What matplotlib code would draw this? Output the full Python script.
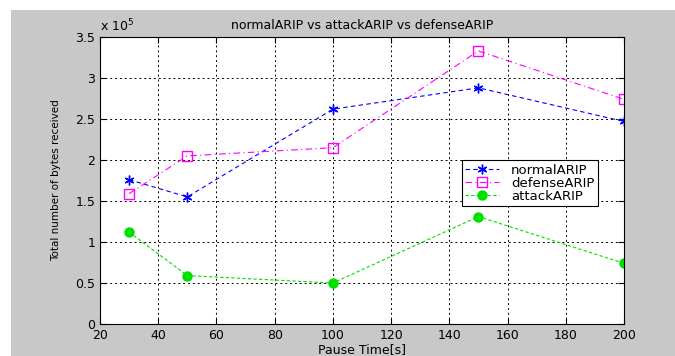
import matplotlib
matplotlib.use('Agg')
import matplotlib.pyplot as plt
from matplotlib.patches import Rectangle
from matplotlib.ticker import FuncFormatter

plt.rcParams['font.family'] = ['DejaVu Sans']

pause_time = [30, 50, 100, 150, 200]
normal_arip = [176000, 155000, 262000, 288000, 247000]
defense_arip = [159000, 205000, 215000, 333000, 274000]
attack_arip = [112000, 59000, 50000, 131000, 74000]

fig = plt.figure(figsize=(6.75, 3.56), dpi=100, facecolor='white')
# grey MATLAB style figure area, leaving a white strip at left and top
fig.patches.append(Rectangle((11 / 675, 0), 1, 346 / 356, transform=fig.transFigure,
                             facecolor='#c8c8c8', edgecolor='none', zorder=-10))

ax = fig.add_axes([100 / 675, 1 - 324 / 356, 524 / 675, 287 / 356])
ax.set_facecolor('white')

ax.plot(pause_time, normal_arip, color='blue', linestyle=(0, (4, 3)), linewidth=0.8,
        marker=(6, 2, 0), markersize=7, markeredgewidth=1.0, label='normalARIP')
ax.plot(pause_time, defense_arip, color='magenta', linestyle=(0, (6, 3, 1, 3)), linewidth=0.8,
        marker='s', markersize=7, markerfacecolor='none', markeredgecolor='magenta',
        label='defenseARIP')
ax.plot(pause_time, attack_arip, color='#00e000', linestyle=(0, (3, 2)), linewidth=0.8,
        marker='o', markersize=6.5, markerfacecolor='#00e000', markeredgecolor='#00e000',
        label='attackARIP')

ax.set_xlim(20, 200)
ax.set_ylim(0, 350000)
ax.set_xticks(range(20, 201, 20))
ax.set_yticks([i * 50000 for i in range(8)])
ax.yaxis.set_major_formatter(FuncFormatter(lambda v, p: '%g' % (v / 1e5)))
ax.tick_params(direction='in', labelsize=9, length=4, top=True, right=True,
               labeltop=False, labelright=False)
ax.grid(True, color='black', linestyle=(0, (2, 3)), linewidth=0.7)

ax.set_title('normalARIP vs attackARIP vs defenseARIP', fontsize=9, pad=6)
ax.set_xlabel('Pause Time[s]', fontsize=9, labelpad=1)
ax.set_ylabel('Total number of bytes received', fontsize=7.5, labelpad=10)
ax.text(0, 1.01, r'x $10^5$', transform=ax.transAxes, fontsize=9, ha='left', va='bottom')

leg = ax.legend(loc='upper left', bbox_to_anchor=(0.69, 0.57), fontsize=9.5,
                fancybox=False, framealpha=1, edgecolor='black', borderpad=0.25,
                labelspacing=0.0, handlelength=2.6, handletextpad=0.9, borderaxespad=0)
leg.get_frame().set_linewidth(0.8)

plt.savefig('out.png', dpi=100, facecolor=fig.get_facecolor())
plt.close()
